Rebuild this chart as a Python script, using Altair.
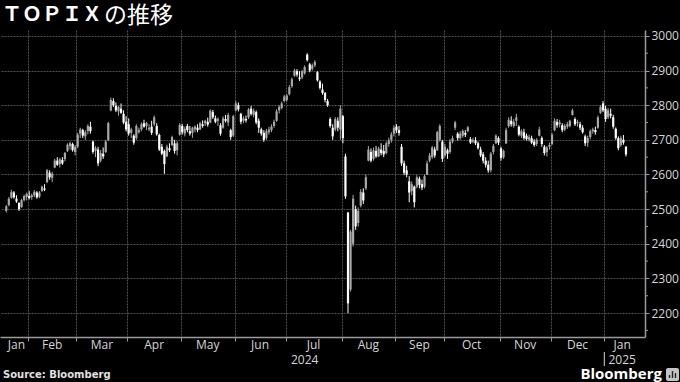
import altair as alt
import pandas as pd

# ---------------- data (TOPIX daily OHLC) ----------------
holidays = ["2024-02-12", "2024-02-23", "2024-03-20", "2024-04-29", "2024-05-03",
            "2024-05-06", "2024-07-15", "2024-08-12", "2024-09-16", "2024-09-23",
            "2024-10-14", "2024-11-04", "2024-12-31", "2025-01-01", "2025-01-02",
            "2025-01-03", "2025-01-13"]

opens = [
    2495, 2512, 2533, 2548, 2530, 2518, 2506, 2526, 2535,
    2538, 2535, 2540, 2548, 2536, 2552, 2560, 2578, 2605, 2590, 2620, 2640, 2630, 2642, 2645, 2668, 2682, 2688, 2665,
    2680, 2718, 2728, 2710, 2725, 2738, 2695, 2668, 2672, 2640, 2660, 2665, 2700, 2785, 2812, 2798, 2782, 2790, 2775, 2752,
    2745, 2720, 2712, 2705, 2722, 2730, 2748, 2740, 2730, 2738, 2745, 2740, 2714, 2680, 2668, 2652, 2676, 2685, 2690, 2670, 2715,
    2740, 2718, 2740, 2725, 2720, 2730, 2735, 2730, 2745, 2748, 2752, 2750, 2780, 2762, 2755, 2742, 2735, 2760, 2750, 2728, 2712,
    2785, 2800, 2775, 2755, 2760, 2765, 2790, 2772, 2780, 2755, 2730, 2720, 2705, 2722, 2728, 2740, 2755, 2785, 2792, 2812,
    2815, 2832, 2855, 2885, 2898, 2880, 2880, 2892, 2946, 2918, 2905, 2915, 2895, 2868, 2845, 2835, 2812, 2760, 2735, 2730, 2755, 2730,
    2768, 2652, 2490, 2268, 2400, 2500, 2460, 2510, 2548, 2560, 2640, 2665, 2645, 2668, 2652, 2672, 2668, 2662, 2688, 2700, 2718,
    2738, 2728, 2680, 2632, 2612, 2580, 2552, 2565, 2565, 2588, 2572, 2565, 2600, 2640, 2650, 2672, 2670, 2700, 2695,
    2655, 2670, 2665, 2695, 2735, 2718, 2705, 2712, 2720, 2725, 2702, 2695, 2698, 2690, 2672, 2658, 2640, 2628, 2612, 2665, 2690, 2705,
    2675, 2650, 2690, 2740, 2755, 2740, 2755, 2738, 2712, 2722, 2712, 2700, 2705, 2695, 2688, 2712, 2705, 2680, 2665, 2680,
    2688, 2728, 2752, 2745, 2742, 2730, 2738, 2740, 2772, 2760, 2748, 2745, 2735, 2710, 2692, 2708, 2725, 2728, 2735, 2778, 2805,
    2790, 2765, 2775, 2765, 2732, 2705, 2685, 2700, 2680,
]
highs = [
    2512, 2535, 2556, 2552, 2540, 2520, 2530, 2542, 2548,
    2552, 2545, 2555, 2552, 2552, 2568, 2572, 2616, 2612, 2608, 2645, 2650, 2648, 2650, 2665, 2690, 2695, 2692, 2685,
    2720, 2735, 2732, 2728, 2745, 2752, 2698, 2682, 2680, 2670, 2678, 2700, 2752, 2822, 2820, 2808, 2798, 2805, 2785, 2768,
    2762, 2735, 2716, 2745, 2735, 2750, 2758, 2752, 2745, 2755, 2770, 2748, 2718, 2688, 2672, 2686, 2690, 2712, 2700, 2696, 2748,
    2746, 2738, 2746, 2740, 2738, 2742, 2745, 2752, 2756, 2758, 2764, 2788, 2786, 2770, 2765, 2748, 2768, 2772, 2778, 2732, 2772,
    2812, 2808, 2778, 2768, 2770, 2792, 2798, 2790, 2785, 2762, 2735, 2728, 2732, 2738, 2745, 2758, 2788, 2800, 2810, 2830,
    2832, 2858, 2880, 2905, 2904, 2898, 2902, 2915, 2950, 2922, 2920, 2930, 2898, 2872, 2862, 2838, 2818, 2765, 2745, 2766, 2765, 2800,
    2772, 2660, 2492, 2440, 2541, 2510, 2505, 2558, 2560, 2600, 2682, 2675, 2678, 2682, 2680, 2690, 2685, 2695, 2706, 2722, 2742,
    2745, 2740, 2688, 2640, 2625, 2595, 2580, 2568, 2598, 2594, 2585, 2600, 2640, 2662, 2682, 2680, 2726, 2745, 2700,
    2688, 2675, 2702, 2712, 2755, 2722, 2725, 2730, 2728, 2740, 2708, 2706, 2708, 2695, 2680, 2665, 2650, 2640, 2665, 2688, 2716, 2710,
    2680, 2672, 2735, 2765, 2768, 2760, 2775, 2742, 2730, 2732, 2718, 2715, 2712, 2702, 2705, 2738, 2710, 2685, 2682, 2692,
    2720, 2762, 2760, 2758, 2748, 2746, 2752, 2758, 2790, 2765, 2758, 2752, 2742, 2715, 2712, 2730, 2735, 2738, 2770, 2800, 2812,
    2798, 2792, 2790, 2772, 2736, 2710, 2712, 2714, 2682,
]
lows = [
    2490, 2508, 2530, 2530, 2518, 2495, 2504, 2522, 2525,
    2528, 2527, 2535, 2530, 2532, 2550, 2552, 2575, 2585, 2578, 2618, 2625, 2620, 2628, 2638, 2665, 2672, 2666, 2655,
    2676, 2705, 2705, 2700, 2716, 2718, 2660, 2650, 2624, 2635, 2645, 2662, 2696, 2782, 2795, 2780, 2770, 2775, 2745, 2724,
    2712, 2705, 2686, 2700, 2718, 2725, 2735, 2728, 2725, 2714, 2740, 2712, 2668, 2656, 2602, 2650, 2665, 2682, 2660, 2655, 2712,
    2715, 2710, 2722, 2712, 2706, 2722, 2722, 2728, 2735, 2740, 2738, 2748, 2760, 2748, 2740, 2712, 2732, 2750, 2740, 2700, 2708,
    2782, 2782, 2745, 2748, 2750, 2760, 2770, 2765, 2745, 2720, 2712, 2694, 2700, 2715, 2722, 2735, 2752, 2776, 2788, 2808,
    2810, 2828, 2850, 2882, 2882, 2870, 2875, 2888, 2926, 2895, 2900, 2910, 2868, 2845, 2830, 2808, 2795, 2735, 2700, 2725, 2725, 2700,
    2690, 2530, 2200, 2262, 2392, 2440, 2450, 2505, 2515, 2555, 2638, 2635, 2640, 2648, 2650, 2655, 2650, 2658, 2680, 2692, 2710,
    2720, 2712, 2625, 2598, 2592, 2520, 2540, 2505, 2560, 2560, 2555, 2560, 2598, 2635, 2645, 2648, 2668, 2695, 2636,
    2650, 2645, 2660, 2690, 2728, 2698, 2700, 2706, 2708, 2722, 2688, 2690, 2685, 2672, 2650, 2632, 2620, 2605, 2606, 2658, 2688, 2685,
    2640, 2645, 2688, 2735, 2738, 2735, 2740, 2710, 2705, 2700, 2698, 2695, 2688, 2680, 2682, 2710, 2680, 2655, 2652, 2672,
    2685, 2725, 2735, 2736, 2722, 2725, 2732, 2736, 2770, 2740, 2738, 2728, 2718, 2682, 2680, 2702, 2718, 2715, 2732, 2775, 2780,
    2752, 2760, 2762, 2732, 2700, 2670, 2680, 2686, 2652,
]
closes = [
    2508, 2530, 2550, 2534, 2522, 2500, 2526, 2538, 2544,
    2532, 2540, 2550, 2534, 2548, 2565, 2556, 2612, 2592, 2602, 2640, 2628, 2644, 2632, 2662, 2686, 2690, 2670, 2680,
    2715, 2730, 2712, 2722, 2740, 2725, 2665, 2676, 2632, 2662, 2652, 2695, 2748, 2815, 2800, 2785, 2795, 2778, 2750, 2730,
    2718, 2730, 2692, 2740, 2728, 2745, 2738, 2748, 2735, 2720, 2765, 2716, 2672, 2660, 2630, 2680, 2670, 2708, 2668, 2690, 2743,
    2722, 2732, 2728, 2718, 2735, 2738, 2728, 2748, 2740, 2755, 2744, 2784, 2765, 2752, 2760, 2718, 2762, 2755, 2772, 2708, 2768,
    2805, 2788, 2752, 2762, 2756, 2788, 2775, 2784, 2750, 2735, 2718, 2700, 2725, 2730, 2738, 2752, 2782, 2795, 2805, 2825,
    2828, 2852, 2875, 2900, 2888, 2875, 2898, 2910, 2930, 2900, 2915, 2925, 2872, 2850, 2835, 2815, 2800, 2740, 2710, 2760, 2735, 2790,
    2705, 2537, 2228, 2435, 2530, 2450, 2495, 2550, 2525, 2592, 2672, 2640, 2670, 2652, 2675, 2662, 2658, 2690, 2698, 2716, 2735,
    2728, 2720, 2632, 2605, 2600, 2548, 2572, 2520, 2592, 2570, 2562, 2595, 2632, 2655, 2678, 2655, 2722, 2740, 2645,
    2680, 2660, 2695, 2705, 2750, 2705, 2718, 2726, 2715, 2736, 2692, 2700, 2690, 2676, 2655, 2640, 2628, 2612, 2660, 2682, 2712, 2692,
    2648, 2668, 2728, 2758, 2745, 2752, 2765, 2715, 2725, 2705, 2702, 2708, 2692, 2685, 2700, 2730, 2688, 2662, 2678, 2685,
    2715, 2755, 2742, 2750, 2728, 2740, 2745, 2755, 2785, 2745, 2752, 2735, 2722, 2690, 2705, 2725, 2730, 2722, 2765, 2795, 2785,
    2760, 2785, 2770, 2738, 2705, 2676, 2705, 2692, 2658,
]

y_labels = [2200, 2300, 2400, 2500, 2600, 2700, 2800, 2900, 3000]
y_minor = [2150, 2250, 2350, 2450, 2550, 2650, 2750, 2850, 2950]

# ---------------- build tables ----------------
dates = pd.bdate_range("2024-01-19", "2025-01-17")
dates = dates[~dates.isin(pd.to_datetime(holidays))]
n = len(dates)
X_MAX = 249

df = pd.DataFrame({
    "date": dates.strftime("%Y-%m-%d"),
    "x": [i + 0.5 for i in range(n)],
    "o": opens, "h": highs, "l": lows, "c": closes,
})
df["dir"] = ["up" if c >= o else "down" for o, c in zip(opens, closes)]

month_bounds = [i for i in range(1, n) if dates[i].month != dates[i - 1].month]
mb = [0] + month_bounds + [X_MAX]
months_df = pd.DataFrame({
    "label": [dates[mb[k]].strftime("%b") for k in range(len(mb) - 1)],
    "pos": [(mb[k] + mb[k + 1]) / 2 for k in range(len(mb) - 1)],
})
year_bounds = [i for i in range(1, n) if dates[i].year != dates[i - 1].year]
yb = [0] + year_bounds + [X_MAX]
years_df = pd.DataFrame({
    "label": [str(dates[yb[k]].year) for k in range(len(yb) - 1)],
    "pos": [(yb[k] + yb[k + 1]) / 2 for k in range(len(yb) - 1)],
})
sep_df = pd.DataFrame({"pos": year_bounds})
minor_df = pd.DataFrame({"v": y_minor})

# ---------------- chart ----------------
GRID = "#505050"
AXIS = "#9a9a9a"
LABEL = "#d6d6d6"
FONT = "Open Sans"

xscale = alt.Scale(domain=[0, X_MAX], nice=False, zero=False)
yscale = alt.Scale(domain=[2131, 3017], nice=False, zero=False)
xaxis = alt.Axis(values=month_bounds, labels=False, ticks=True, tickSize=4,
                 tickColor=AXIS, domainColor=AXIS, domainWidth=1.5, title=None,
                 grid=True, gridColor=GRID, gridDash=[2, 1], gridWidth=1)
yaxis = alt.Axis(orient="right", values=y_labels, format="d", tickSize=4, tickColor=AXIS,
                 domainColor=AXIS, domainWidth=1.5, labelColor=LABEL, title=None,
                 labelFont=FONT, labelFontSize=12, labelPadding=2,
                 grid=True, gridColor=GRID, gridDash=[2, 1], gridWidth=1)
col = alt.Color("dir:N", scale=alt.Scale(domain=["up", "down"], range=["#a8a8a8", "#ffffff"]), legend=None)

wicks = alt.Chart(df).mark_rule(strokeWidth=1).encode(
    x=alt.X("x:Q", scale=xscale, axis=xaxis),
    y=alt.Y("l:Q", scale=yscale, axis=yaxis),
    y2="h:Q",
    color=col,
)

bodies = alt.Chart(df).mark_bar(size=2.2).encode(
    x=alt.X("x:Q", scale=xscale, axis=xaxis),
    y=alt.Y("o:Q", scale=yscale, axis=yaxis),
    y2="c:Q",
    color=col,
)

minor = alt.Chart(minor_df).mark_rule(color=AXIS, strokeWidth=1).encode(
    y=alt.Y("v:Q", scale=yscale, axis=yaxis),
    x=alt.value(645), x2=alt.value(648),
)

month_text = alt.Chart(months_df).mark_text(
    font=FONT, fontSize=12, color=LABEL, baseline="middle", align="center"
).encode(x=alt.X("pos:Q", scale=xscale, axis=xaxis), y=alt.value(315), text="label:N")

year_text = alt.Chart(years_df).mark_text(
    font=FONT, fontSize=12, color=LABEL, baseline="middle", align="center"
).encode(x=alt.X("pos:Q", scale=xscale, axis=xaxis), y=alt.value(329.5), text="label:N")

year_sep = alt.Chart(sep_df).mark_rule(color=LABEL, strokeWidth=1).encode(
    x=alt.X("pos:Q", scale=xscale, axis=xaxis), y=alt.value(322), y2=alt.value(336),
)

deco = pd.DataFrame({"k": [0]})
title1 = alt.Chart(deco).mark_text(
    text="ＴＯＰＩＸ", font="Noto Sans CJK JP", fontWeight="bold", fontSize=20,
    color="#ffffff", align="left", baseline="middle"
).encode(x=alt.value(2), y=alt.value(-15.5))
title2 = alt.Chart(deco).mark_text(
    text="の推移", font="Noto Sans CJK JP", fontWeight="normal", fontSize=23,
    color="#ffffff", align="left", baseline="middle"
).encode(x=alt.value(104), y=alt.value(-14.5))
source = alt.Chart(deco).mark_text(
    text="Source: Bloomberg", font="DejaVu Sans", fontWeight="bold", fontSize=10,
    color="#e0e0e0", align="left", baseline="middle"
).encode(x=alt.value(3), y=alt.value(345))
brand = alt.Chart(deco).mark_text(
    text="Bloomberg", font=FONT, fontWeight="bold", fontSize=15,
    color="#ffffff", align="right", baseline="middle"
).encode(x=alt.value(662), y=alt.value(344))
icon = alt.Chart(deco).mark_rect(color="#c4c4c4", cornerRadius=2).encode(
    x=alt.value(666), x2=alt.value(679), y=alt.value(338), y2=alt.value(351),
)
icon_bars = [
    alt.Chart(deco).mark_rule(color="#222222", strokeWidth=1.4).encode(
        x=alt.value(xv), y=alt.value(y1), y2=alt.value(348)
    )
    for xv, y1 in [(669.5, 345), (672.5, 341), (675.5, 343)]
]

chart = alt.layer(
    wicks, bodies, minor, month_text, year_text, year_sep,
    title1, title2, source, brand, icon, *icon_bars,
).properties(
    width=645, height=307,
    padding={"left": 0, "top": 30, "right": 35, "bottom": 45},
    autosize=alt.AutoSizeParams(type="none"),
    background="#000000",
).configure_view(stroke=None)

chart.save("out.html", embed_options={"renderer": "svg", "actions": False})
